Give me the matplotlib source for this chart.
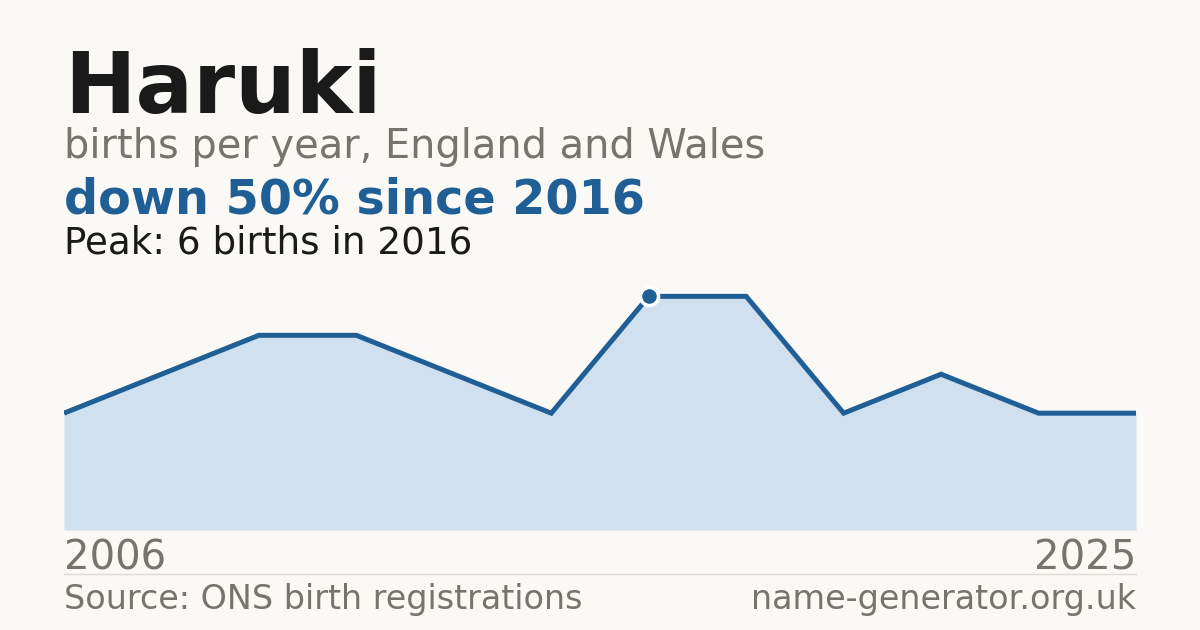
import numpy as np
import matplotlib.pyplot as plt

# data (points spaced evenly)
years = [2006, 2008, 2010, 2011, 2012, 2014, 2016, 2017, 2019, 2021, 2023, 2025]
births = [3, 4, 5, 5, 4, 3, 6, 6, 3, 4, 3, 3]

name = "Haruki"
subtitle = "births per year, England and Wales"
headline = "down 50% since 2016"
peak_note = "Peak: 6 births in 2016"
source = "Source: ONS birth registrations"
site = "name-generator.org.uk"

bg = '#faf9f5'
blue = '#1f5f96'
fill = '#d0e0ef'
grey = '#77736e'
dark = '#1a1a1a'

W, H = 1200, 630
fig = plt.figure(figsize=(12, 6.3), dpi=100, facecolor=bg)

def fx(px):
    return px / W

def fy(py):
    return 1 - py / H

ax = fig.add_axes([fx(64), fy(530), fx(1136) - fx(64), (530 - 273) / H])
ax.set_facecolor(bg)
x = np.arange(len(births))
ax.fill_between(x, births, 0, color=fill, lw=0)
ax.plot(x, births, color=blue, lw=3.6, solid_joinstyle='miter', solid_capstyle='butt')
pk = int(np.argmax(births))
ax.plot(x[pk], births[pk], 'o', color=blue, ms=13, mec='white', mew=2.5, zorder=5)
ax.set_xlim(0, len(births) - 1)
ax.set_ylim(0, max(births) * 1.1)
ax.axis('off')

fig.text(fx(64), fy(113), name, fontsize=61.5, fontweight='bold', color=dark, va='baseline')
fig.text(fx(64), fy(158), subtitle, fontsize=28.7, color=grey, va='baseline')
fig.text(fx(64), fy(214), headline, fontsize=34.4, fontweight='bold', color=blue, va='baseline')
fig.text(fx(64), fy(253), peak_note, fontsize=26.8, color=dark, va='baseline')

fig.text(fx(64), fy(569), str(years[0]), fontsize=28.9, color=grey, va='baseline')
fig.text(fx(1136), fy(569), str(years[-1]), fontsize=28.9, color=grey, va='baseline', ha='right')

fig.add_artist(plt.Line2D([fx(64), fx(1136)], [fy(574), fy(574)], color='#dcdad5', lw=1))

fig.text(fx(64), fy(609), source, fontsize=24, color=grey, va='baseline')
fig.text(fx(1136), fy(609), site, fontsize=24, color=grey, va='baseline', ha='right')

fig.savefig('out.png', dpi=100, facecolor=bg)
